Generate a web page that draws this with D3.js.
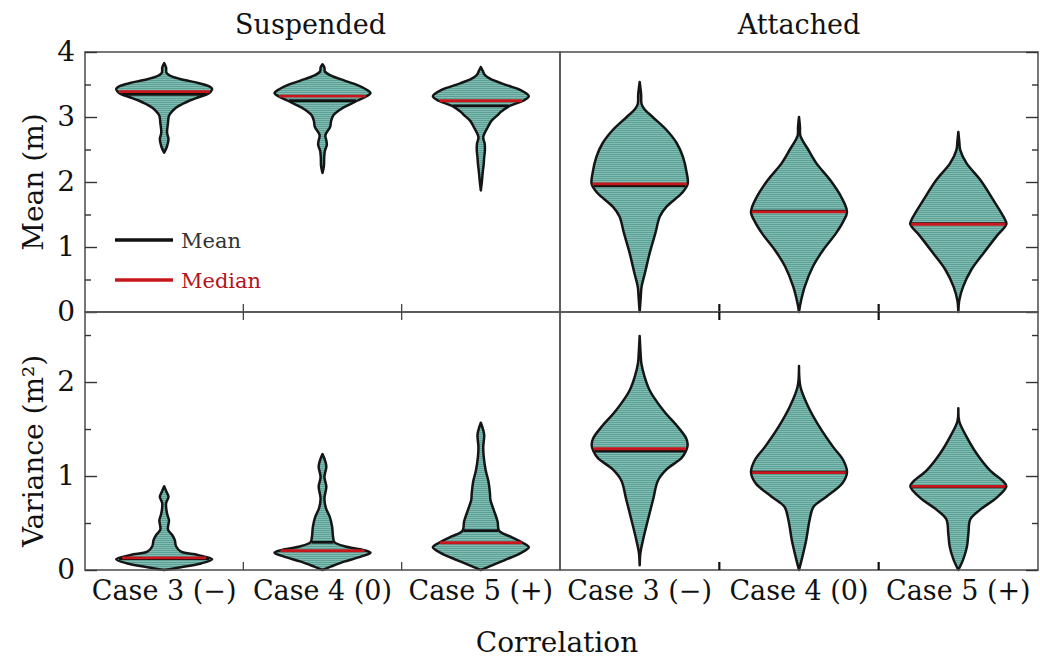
<!DOCTYPE html>
<html>
<head>
<meta charset="utf-8">
<script src="https://cdn.jsdelivr.net/npm/d3@7"></script>
<style>
  body { margin: 0; background: #fff; }
  text { font-family: "DejaVu Serif", serif; fill: #111; }
</style>
</head>
<body>
<svg id="chart" width="1040" height="661"></svg>
<script>
const groups = ["Suspended", "Attached"];
const cases = ["Case 3 (\u2212)", "Case 4 (0)", "Case 5 (+)"];
const meanTicks = [0, 1, 2, 3, 4];
const varTicks = [0, 1, 2];

// violin profiles: [value, relative half width]
const susMeanC3 = [[3.83,0],[3.76,0.04],[3.68,0.05],[3.62,0.17],[3.57,0.42],[3.52,0.73],[3.47,0.94],[3.43,1.0],[3.39,0.97],[3.35,0.9],[3.3,0.7],[3.25,0.52],[3.2,0.38],[3.15,0.26],[3.09,0.17],[3.02,0.1],[2.91,0.08],[2.76,0.06],[2.66,0.09],[2.55,0.06],[2.45,0]];
const susMeanC4 = [[3.81,0],[3.76,0.04],[3.7,0.05],[3.64,0.17],[3.56,0.46],[3.49,0.73],[3.42,0.92],[3.37,1.0],[3.32,0.92],[3.25,0.72],[3.19,0.56],[3.12,0.38],[3.03,0.23],[2.94,0.18],[2.85,0.16],[2.72,0.06],[2.64,0.08],[2.57,0.09],[2.48,0.05],[2.38,0.035],[2.25,0.03],[2.14,0]];
const susMeanC5 = [[3.77,0],[3.71,0.04],[3.65,0.08],[3.59,0.19],[3.49,0.54],[3.42,0.81],[3.32,1.0],[3.25,0.88],[3.17,0.6],[3.08,0.42],[3.03,0.35],[2.94,0.22],[2.85,0.15],[2.69,0.05],[2.59,0.08],[2.49,0.085],[2.38,0.07],[2.28,0.06],[2.15,0.04],[2.03,0.025],[1.87,0]];
const attMeanC3 = [[3.54,0],[3.35,0.03],[3.2,0.04],[3.12,0.1],[3.0,0.27],[2.8,0.56],[2.6,0.77],[2.39,0.9],[2.14,0.98],[1.97,1.0],[1.83,0.88],[1.62,0.56],[1.47,0.42],[1.22,0.33],[0.91,0.21],[0.6,0.11],[0.39,0.04],[0.2,0.02],[0,0]];
const attMeanC4 = [[3.0,0],[2.85,0.02],[2.71,0.03],[2.5,0.19],[2.29,0.36],[2.03,0.65],[1.77,0.88],[1.54,1.0],[1.39,0.92],[1.21,0.77],[0.95,0.5],[0.7,0.29],[0.39,0.12],[0.13,0.03],[0,0]];
const attMeanC5 = [[2.77,0],[2.62,0.02],[2.49,0.04],[2.29,0.17],[2.03,0.46],[1.72,0.73],[1.41,0.98],[1.35,1.0],[1.16,0.79],[0.9,0.52],[0.65,0.27],[0.39,0.1],[0.18,0.02],[0,0]];
const susVarC3 = [[0.89,0],[0.83,0.05],[0.78,0.09],[0.71,0.04],[0.6,0.06],[0.53,0.1],[0.43,0.08],[0.37,0.17],[0.32,0.22],[0.25,0.25],[0.195,0.35],[0.16,0.7],[0.114,1.0],[0.07,0.77],[0.03,0.35],[0,0]];
const susVarC4 = [[1.234,0],[1.17,0.05],[1.1,0.08],[0.99,0.04],[0.886,0.08],[0.76,0.04],[0.66,0.07],[0.567,0.15],[0.46,0.2],[0.354,0.22],[0.295,0.25],[0.248,0.5],[0.213,0.85],[0.184,1.0],[0.142,0.8],[0.089,0.45],[0.035,0.17],[0,0]];
const susVarC5 = [[1.567,0],[1.507,0.04],[1.436,0.07],[1.31,0.05],[1.205,0.06],[1.064,0.1],[0.94,0.16],[0.816,0.19],[0.745,0.2],[0.638,0.27],[0.514,0.35],[0.418,0.38],[0.354,0.62],[0.29,0.87],[0.241,1.0],[0.177,0.82],[0.106,0.5],[0.035,0.17],[0,0]];
const attVarC3 = [[2.49,0],[2.3,0.02],[2.2,0.035],[2.06,0.1],[1.91,0.21],[1.7,0.49],[1.52,0.8],[1.4,0.97],[1.33,1.0],[1.26,0.96],[1.19,0.87],[1.07,0.56],[0.95,0.38],[0.75,0.28],[0.53,0.17],[0.32,0.07],[0.18,0.015],[0.05,0]];
const attVarC4 = [[2.17,0],[1.95,0.03],[1.74,0.19],[1.52,0.43],[1.31,0.71],[1.17,0.92],[1.04,1.0],[0.92,0.9],[0.78,0.57],[0.67,0.3],[0.53,0.22],[0.32,0.15],[0.14,0.07],[0,0]];
const attVarC5 = [[1.72,0],[1.58,0.02],[1.42,0.17],[1.24,0.38],[1.06,0.66],[0.94,0.94],[0.89,1.0],[0.77,0.8],[0.64,0.45],[0.54,0.25],[0.39,0.21],[0.25,0.18],[0.11,0.1],[0,0]];

const susMeanMeans = [3.35, 3.25, 3.17];
const susMeanMedians = [3.39, 3.32, 3.25];
const attMeanMeans = [1.94, 1.55, 1.36];
const attMeanMedians = [1.97, 1.54, 1.35];
const susVarMeans = [0.12, 0.295, 0.418];
const susVarMedians = [0.13, 0.205, 0.29];
const attVarMeans = [1.265, 1.04, 0.885];
const attVarMedians = [1.29, 1.035, 0.89];

const svg = d3.select("#chart");

const defs = svg.append("defs");
const pat = defs.append("pattern").attr("id", "stripes")
  .attr("patternUnits", "userSpaceOnUse").attr("width", 6).attr("height", 2);
pat.append("rect").attr("width", 6).attr("height", 2).attr("fill", "#82bdb3");
pat.append("rect").attr("width", 6).attr("height", 1).attr("fill", "#5da196");

const colX = [[85, 560], [560, 1038]];
const rows = [
  { range: [312, 52], domain: [0, 4], ticks: meanTicks, minor: d3.range(0.5, 4, 1), label: "Mean (m)",
    profiles: [[susMeanC3, susMeanC4, susMeanC5], [attMeanC3, attMeanC4, attMeanC5]],
    means: [susMeanMeans, attMeanMeans], medians: [susMeanMedians, attMeanMedians] },
  { range: [570, 312], domain: [0, 2.745], ticks: varTicks, minor: d3.range(0.5, 2.745, 1), label: "Variance (m\u00b2)",
    profiles: [[susVarC3, susVarC4, susVarC5], [attVarC3, attVarC4, attVarC5]],
    means: [susVarMeans, attVarMeans], medians: [susVarMedians, attVarMedians] }
];

const wScale = d3.scaleLinear().domain([0, 1]).range([0, 48]);

function widthAt(profile, v) {
  const p = profile.slice().sort((a, b) => a[0] - b[0]);
  for (let i = 1; i < p.length; i++) {
    if (v <= p[i][0]) {
      const t = (v - p[i-1][0]) / (p[i][0] - p[i-1][0]);
      return p[i-1][1] + t * (p[i][1] - p[i-1][1]);
    }
  }
  return 0;
}

rows.forEach((row, ri) => {
  const y = d3.scaleLinear().domain(row.domain).range(row.range);
  colX.forEach((cx, ci) => {
    const x = d3.scaleBand().domain(cases).range(cx);
    const g = svg.append("g");

    // violins
    cases.forEach((c, k) => {
      const prof = row.profiles[ci][k].slice().sort((a, b) => a[0] - b[0]);
      const mid = x(c) + x.bandwidth() / 2;
      const area = d3.area().curve(d3.curveCatmullRom.alpha(0.5))
        .y(d => y(d[0]))
        .x0(d => mid - wScale(d[1]))
        .x1(d => mid + wScale(d[1]));
      g.append("path").attr("d", area(prof))
        .attr("fill", "url(#stripes)")
        .attr("stroke", "#151515").attr("stroke-width", 2.5)
        .attr("stroke-linejoin", "round");

      [[row.means[ci][k], "#111"], [row.medians[ci][k], "#c8161d"]].forEach(([v, col]) => {
        const hw = wScale(widthAt(prof, v)) - 1;
        g.append("line")
          .attr("x1", mid - hw).attr("x2", mid + hw)
          .attr("y1", y(v)).attr("y2", y(v))
          .attr("stroke", col).attr("stroke-width", 2.8);
      });
    });

    // frame
    g.append("rect")
      .attr("x", cx[0]).attr("y", row.range[1])
      .attr("width", cx[1] - cx[0]).attr("height", row.range[0] - row.range[1])
      .attr("fill", "none").attr("stroke", "#555").attr("stroke-width", 1.6);

    // y ticks, inward on the outer side
    const major = (ci === 0 ? d3.axisLeft(y) : d3.axisRight(y))
      .tickValues(row.ticks).tickSize(-12).tickPadding(10)
      .tickFormat(ci === 0 ? d3.format("d") : "");
    const minorAx = (ci === 0 ? d3.axisLeft(y) : d3.axisRight(y))
      .tickValues(row.minor).tickSize(-6).tickFormat("");
    [major, minorAx].forEach(ax => {
      const a = svg.append("g")
        .attr("transform", `translate(${ci === 0 ? cx[0] : cx[1]},0)`)
        .call(ax);
      a.select(".domain").remove();
      a.selectAll("line").attr("stroke", "#333").attr("stroke-width", 1.4);
      a.selectAll("text").attr("font-size", 28).attr("font-family", "DejaVu Serif").attr("fill", "#111");
    });

    // category boundary ticks
    const tickCol = ci === 0 ? "#444" : "#111";
    const tickW = ci === 0 ? 1.3 : 2.2;
    cases.slice(1).forEach(c => {
      const bx = x(c);
      g.append("line").attr("x1", bx).attr("x2", bx)
        .attr("y1", row.range[0] - 8).attr("y2", row.range[0])
        .attr("stroke", tickCol).attr("stroke-width", tickW);
      if (ri === 1) {
        g.append("line").attr("x1", bx).attr("x2", bx)
          .attr("y1", row.range[1]).attr("y2", row.range[1] + 8)
          .attr("stroke", tickCol).attr("stroke-width", tickW);
      }
    });

    if (ri === 1) {
      const xa = svg.append("g").attr("transform", `translate(0,${row.range[0]})`)
        .call(d3.axisBottom(x).tickSize(0).tickPadding(11));
      xa.select(".domain").remove();
      xa.selectAll("text").attr("font-size", 27).attr("font-family", "DejaVu Serif").attr("fill", "#111");
    }
    if (ri === 0) {
      svg.append("text").attr("x", (cx[0] + cx[1]) / 2 + (ci === 0 ? -12 : 0)).attr("y", 34)
        .attr("text-anchor", "middle").attr("font-size", 27).text(groups[ci]);
    }
  });

  const yMid = (row.range[0] + row.range[1]) / 2;
  svg.append("text")
    .attr("transform", `translate(43,${yMid + (ri === 0 ? 0 : 10)}) rotate(-90)`)
    .attr("text-anchor", "middle").attr("font-size", 28).text(row.label);
});

svg.append("text").attr("x", 557).attr("y", 652)
  .attr("text-anchor", "middle").attr("font-size", 28).text("Correlation");

// legend
const legend = [["Mean", "#111", "#333"], ["Median", "#c8161d", "#b5121b"]];
legend.forEach(([name, lc, tc], i) => {
  const ly = 240 + i * 40;
  svg.append("line").attr("x1", 115).attr("x2", 173).attr("y1", ly).attr("y2", ly)
    .attr("stroke", lc).attr("stroke-width", 3.5);
  svg.append("text").attr("x", 181).attr("y", ly + 8)
    .attr("font-size", 21).style("fill", tc).text(name);
});
</script>
</body>
</html>
